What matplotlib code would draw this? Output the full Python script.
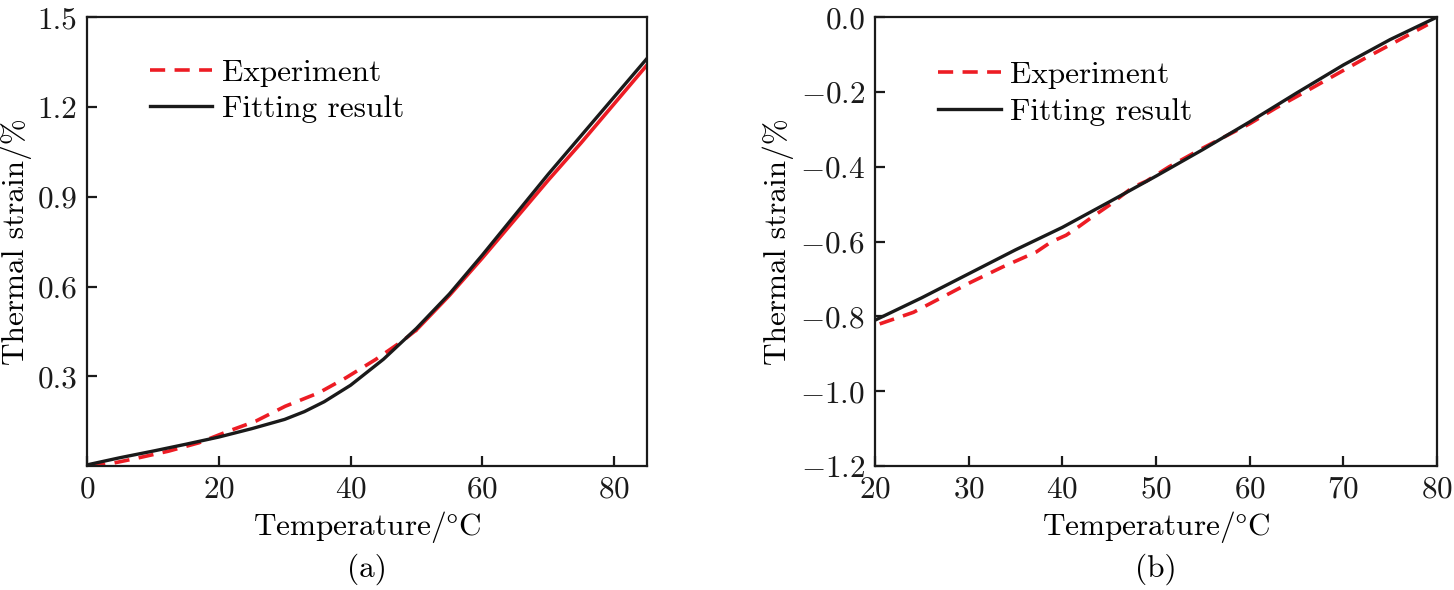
import matplotlib
matplotlib.use("Agg")
import matplotlib.pyplot as plt
import numpy as np

# ---------------- data ----------------
# panel (a)
a_fit_T = [0, 5, 10, 15, 20, 25, 30, 33, 36, 40, 45, 50, 55, 60, 65, 70, 75, 80, 85]
a_fit_e = [0.004, 0.028, 0.050, 0.073, 0.097, 0.125, 0.156, 0.182, 0.215, 0.270,
           0.357, 0.460, 0.575, 0.705, 0.840, 0.975, 1.104, 1.233, 1.362]
a_exp_T = [0.5, 4, 7.3, 12.4, 17, 21.5, 25.6, 30.1, 35.2, 39.3, 43.8, 48, 50,
           55, 60, 65, 70, 75, 80, 85]
a_exp_e = [0.0, 0.010, 0.025, 0.050, 0.078, 0.117, 0.150, 0.200, 0.245, 0.295,
           0.356, 0.420, 0.455, 0.570, 0.695, 0.825, 0.955, 1.080, 1.210, 1.340]
a_dash_end = 12  # index where experiment curve turns from dashed to solid

# panel (b)
b_fit_T = [20, 25, 30, 35, 40, 45, 50, 55, 60, 65, 70, 75, 80]
b_fit_e = [-0.810, -0.750, -0.686, -0.622, -0.562, -0.494, -0.425, -0.354,
           -0.280, -0.203, -0.128, -0.060, 0.0]
b_exp_T = [20.5, 24.1, 30.2, 33.6, 37.2, 38.8, 40.4, 41.7, 43.2, 45, 47.5, 49,
           51.4, 55, 60, 62.8, 65.7, 72.1, 79]
b_exp_e = [-0.820, -0.789, -0.709, -0.668, -0.628, -0.601, -0.583, -0.561,
           -0.534, -0.503, -0.455, -0.438, -0.400, -0.350, -0.285, -0.243,
           -0.203, -0.113, -0.020]

a_xticks = [0, 20, 40, 60, 80]
a_yticks = [0.3, 0.6, 0.9, 1.2, 1.5]
b_xticks = [20, 30, 40, 50, 60, 70, 80]
b_yticks = [-1.2, -1.0, -0.8, -0.6, -0.4, -0.2, 0.0]

xlabel = r"Temperature/$\degree$C"
ylabel = "Thermal strain/%"
leg_labels = ["Experiment", "Fitting result"]
captions = ["(a)", "(b)"]

# ---------------- style ----------------
plt.rcParams["font.family"] = "serif"
plt.rcParams["font.serif"] = ["cmr10", "DejaVu Serif"]
plt.rcParams["mathtext.fontset"] = "cm"
plt.rcParams["axes.formatter.use_mathtext"] = True
plt.rcParams["axes.unicode_minus"] = True

RED = "#ED1C24"
BLACK = "#1a1a1a"
FS = 22.5

fig = plt.figure(figsize=(14.54, 5.90), dpi=100)
axA = fig.add_axes([0.0598, 0.210, 0.3852, 0.761])
axB = fig.add_axes([0.6018, 0.210, 0.3865, 0.761])


def style(ax):
    for s in ax.spines.values():
        s.set_linewidth(1.6)
        s.set_color(BLACK)
    ax.tick_params(direction="in", length=7, width=1.6, labelsize=FS,
                   top=False, right=False, pad=7, colors=BLACK)
    ax.set_xlabel(xlabel, fontsize=FS, labelpad=4)
    ax.set_ylabel(ylabel, fontsize=FS, labelpad=4)


# panel (a)
axA.plot(a_exp_T[:a_dash_end + 1], a_exp_e[:a_dash_end + 1], color=RED, lw=2.6,
         dashes=(4.2, 2.6), label=leg_labels[0])
axA.plot(a_exp_T[a_dash_end:], a_exp_e[a_dash_end:], color=RED, lw=2.6)
axA.plot(a_fit_T, a_fit_e, color=BLACK, lw=2.4, label=leg_labels[1])
axA.set_xlim(0, 85)
axA.set_ylim(0, 1.5)
axA.set_xticks(a_xticks)
axA.set_yticks(a_yticks)
axA.yaxis.set_major_formatter(matplotlib.ticker.FormatStrFormatter("%.1f"))
style(axA)
axA.legend(loc="upper left", bbox_to_anchor=(0.09, 0.935), frameon=False,
           fontsize=FS, handlelength=2.0, handletextpad=0.3, labelspacing=0.28,
           borderaxespad=0)

# panel (b)
axB.plot(b_exp_T, b_exp_e, color=RED, lw=2.6, dashes=(4.2, 2.6),
         label=leg_labels[0])
axB.plot(b_fit_T, b_fit_e, color=BLACK, lw=2.4, label=leg_labels[1])
axB.set_xlim(20, 80)
axB.set_ylim(-1.2, 0.0)
axB.set_xticks(b_xticks)
axB.set_yticks(b_yticks)
axB.yaxis.set_major_formatter(matplotlib.ticker.FuncFormatter(
    lambda v, p: ("$-$" if v < -1e-9 else "") + "%.1f" % abs(v)))
style(axB)
axB.legend(loc="upper left", bbox_to_anchor=(0.09, 0.93), frameon=False,
           fontsize=FS, handlelength=2.0, handletextpad=0.3, labelspacing=0.28,
           borderaxespad=0)

for ax, cap in zip([axA, axB], captions):
    pos = ax.get_position()
    fig.text((pos.x0 + pos.x1) / 2, 0.035, cap, ha="center", va="center",
             fontsize=FS)

fig.savefig("out.png", dpi=100)
